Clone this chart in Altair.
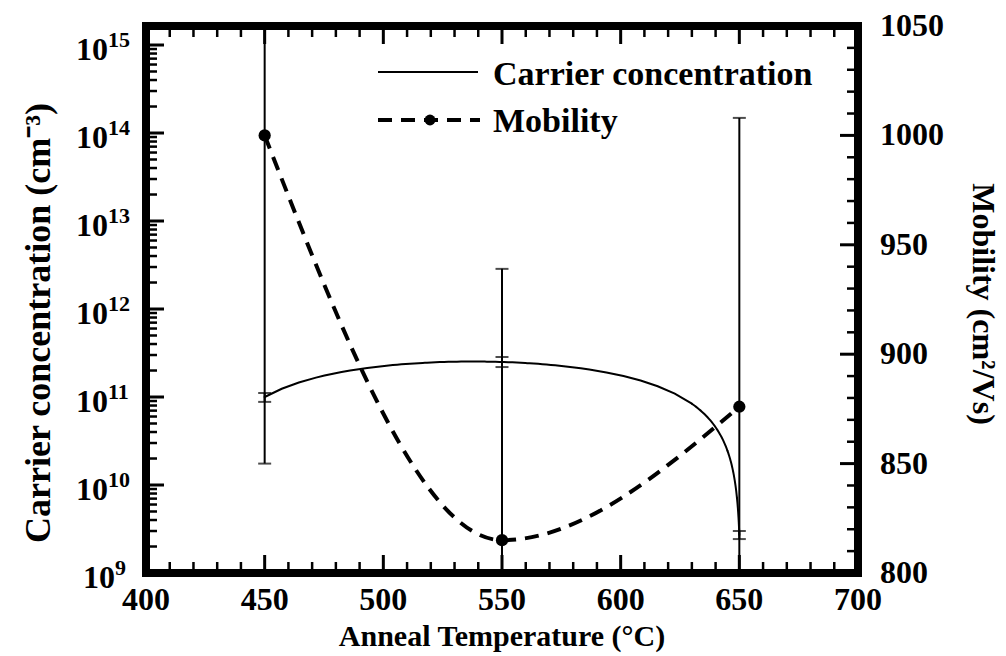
import altair as alt
import pandas as pd

# ---- measured data -------------------------------------------------------
anneal_temp = [450, 550, 650]                    # anneal temperature (C)
carrier = [1.0e11, 2.5e11, 2.7e9]                # carrier concentration (cm^-3)
carrier_low = [0.88e11, 2.19e11, 2.43e9]
carrier_high = [1.11e11, 2.85e11, 3.0e9]
mobility = [1000, 815, 876]                      # mobility (cm^2/Vs)
mobility_err = [150, 124, 132]

# ---- axis definitions ----------------------------------------------------
temp_major = [400, 450, 500, 550, 600, 650, 700]
temp_minor = [t for t in range(400, 701, 10) if t % 50 != 0]
decades = [9, 10, 11, 12, 13, 14, 15]
log_minor = [m * 10.0 ** e for e in range(9, 15) for m in range(2, 10)]
mob_major = [800, 850, 900, 950, 1000, 1050]
mob_minor = [v for v in range(800, 1051, 10) if v % 50 != 0]

legend_labels = ["Carrier concentration", "Mobility"]
x_title = "Anneal Temperature (°C)"
yl_title = "Carrier concentration (cm⁻³)"
yr_title = "Mobility (cm²/Vs)"

# sampling ranges for the fitted carrier curve (finer where it drops steeply)
fit_ranges = [[450, 630], [630, 645], [645, 649], [649, 650]]

W, H = 712, 547
FONT = "Liberation Serif"
BLACK = "black"
MAJ, MIN = 18, 11

x_scale = alt.Scale(domain=[400, 700], nice=False, zero=False)
yl_scale = alt.Scale(type="log", domain=[1e9, 10 ** 15.216], nice=False)
yr_scale = alt.Scale(domain=[800, 1050], nice=False, zero=False)

meas = pd.DataFrame({
    "temp": anneal_temp,
    "carrier": carrier,
    "carrier_low": carrier_low,
    "carrier_high": carrier_high,
    "mobility": mobility,
    "mobility_err": mobility_err,
})

X = alt.X("temp:Q", scale=x_scale, axis=None)


def text(size=32, **kw):
    return dict(font=FONT, fontWeight="bold", fontSize=size, color=BLACK, **kw)


# ---- carrier concentration (left, log axis) ------------------------------
carrier_curve = alt.layer(*[
    alt.Chart(meas).transform_regression(
        "temp", "carrier", method="poly", order=2, extent=rng
    ).mark_line(color=BLACK, strokeWidth=2, strokeCap="round").encode(
        x=X, y=alt.Y("carrier:Q", scale=yl_scale, axis=None)
    )
    for rng in fit_ranges
])

carrier_bar = alt.Chart(meas).mark_rule(color=BLACK, strokeWidth=2).encode(
    x=X, y=alt.Y("carrier_low:Q", scale=yl_scale, axis=None), y2="carrier_high:Q"
)

carrier_caps = alt.Chart(meas).transform_fold(
    ["carrier_low", "carrier_high"], as_=["end", "val"]
).mark_tick(orient="horizontal", size=13, thickness=2, color=BLACK).encode(
    x=X, y=alt.Y("val:Q", scale=yl_scale, axis=None)
)

ylt_major = alt.Chart(pd.DataFrame({"v": [10.0 ** e for e in decades]})).mark_rule(
    color=BLACK, strokeWidth=3
).encode(y=alt.Y("v:Q", scale=yl_scale, axis=None), x=alt.value(0), x2=alt.value(MAJ))

ylt_minor = alt.Chart(pd.DataFrame({"v": log_minor})).mark_rule(
    color=BLACK, strokeWidth=2.5
).encode(y=alt.Y("v:Q", scale=yl_scale, axis=None), x=alt.value(0), x2=alt.value(MIN))

dec_df = pd.DataFrame({"v": [10.0 ** e for e in decades], "exp": [str(e) for e in decades]})


def decade_labels(cond, xr):
    base = alt.Chart(dec_df).transform_filter(cond).mark_text(
        **text(32, align="right", baseline="alphabetic", dy=15)
    ).encode(y=alt.Y("v:Q", scale=yl_scale, axis=None), x=alt.value(xr), text=alt.value("10"))
    sup = alt.Chart(dec_df).transform_filter(cond).mark_text(
        **text(22, align="left", baseline="alphabetic", dy=2)
    ).encode(y=alt.Y("v:Q", scale=yl_scale, axis=None), x=alt.value(xr), text="exp:N")
    return base + sup


# ---- x axis ticks / labels -----------------------------------------------
xt_major_df = pd.DataFrame({"temp": temp_major})
xt_minor_df = pd.DataFrame({"temp": temp_minor})

x_ticks = alt.layer(
    alt.Chart(xt_major_df).mark_rule(color=BLACK, strokeWidth=3).encode(
        x=X, y=alt.value(H), y2=alt.value(H - MAJ)),
    alt.Chart(xt_major_df).mark_rule(color=BLACK, strokeWidth=3).encode(
        x=X, y=alt.value(0), y2=alt.value(MAJ)),
    alt.Chart(xt_minor_df).mark_rule(color=BLACK, strokeWidth=2.5).encode(
        x=X, y=alt.value(H), y2=alt.value(H - MIN)),
    alt.Chart(xt_minor_df).mark_rule(color=BLACK, strokeWidth=2.5).encode(
        x=X, y=alt.value(0), y2=alt.value(MIN)),
)

x_labels = alt.Chart(xt_major_df).mark_text(
    **text(32, align="center", baseline="alphabetic")
).encode(x=X, y=alt.value(H + 37), text=alt.Text("temp:Q", format="d"))

titles_df = pd.DataFrame({"x_title": [x_title], "yl_title": [yl_title], "yr_title": [yr_title]})

x_title_mark = alt.Chart(titles_df).mark_text(
    **text(30, align="center", baseline="alphabetic")
).encode(x=alt.value(W / 2), y=alt.value(H + 73), text="x_title:N")

yl_title_mark = alt.Chart(titles_df).mark_text(
    **text(36, align="center", baseline="alphabetic", angle=270)
).encode(x=alt.value(-96), y=alt.value(297), text="yl_title:N")

yr_title_mark = alt.Chart(titles_df).mark_text(
    **text(32, align="center", baseline="alphabetic", angle=90)
).encode(x=alt.value(W + 115), y=alt.value(278), text="yr_title:N")

# ---- legend ----------------------------------------------------------------
leg_df = pd.DataFrame({"label": legend_labels})
legend = alt.layer(
    alt.Chart(leg_df.iloc[[0]]).mark_rule(color=BLACK, strokeWidth=2).encode(
        x=alt.value(232), x2=alt.value(332), y=alt.value(46)),
    alt.Chart(leg_df.iloc[[1]]).mark_rule(color=BLACK, strokeWidth=4, strokeDash=[14, 9]).encode(
        x=alt.value(232), x2=alt.value(334), y=alt.value(94)),
    alt.Chart(leg_df.iloc[[1]]).mark_circle(color=BLACK, size=120, opacity=1).encode(
        x=alt.value(284), y=alt.value(94)),
    alt.Chart(leg_df.iloc[[0]]).mark_text(**text(34, align="left", baseline="alphabetic")).encode(
        x=alt.value(347), y=alt.value(59), text="label:N"),
    alt.Chart(leg_df.iloc[[1]]).mark_text(**text(34, align="left", baseline="alphabetic")).encode(
        x=alt.value(347), y=alt.value(106), text="label:N"),
)

left_group = alt.layer(
    carrier_curve, carrier_bar, carrier_caps,
    ylt_major, ylt_minor,
    decade_labels("datum.exp.length > 1", -38),
    decade_labels("datum.exp.length == 1", -31),
    x_ticks, x_labels, x_title_mark, yl_title_mark, legend,
)

# ---- mobility (right, linear axis) ---------------------------------------
YR = alt.Y("mobility:Q", scale=yr_scale, axis=None)

mob_line = alt.Chart(meas).mark_line(
    interpolate="monotone", color=BLACK, strokeWidth=4, strokeDash=[14, 9]
).encode(x=X, y=YR)

mob_pts = alt.Chart(meas).mark_circle(color=BLACK, size=150, opacity=1).encode(x=X, y=YR)

mob_err = alt.Chart(meas).transform_calculate(
    lo="datum.mobility - datum.mobility_err", hi="datum.mobility + datum.mobility_err"
)

mob_bar = mob_err.mark_rule(color=BLACK, strokeWidth=2, clip=True).encode(
    x=X, y=alt.Y("lo:Q", scale=yr_scale, axis=None), y2="hi:Q"
)

mob_caps = mob_err.transform_fold(["lo", "hi"], as_=["end", "val"]).mark_tick(
    orient="horizontal", size=13, thickness=2, color=BLACK, clip=True
).encode(x=X, y=alt.Y("val:Q", scale=yr_scale, axis=None))

yrt_major = alt.Chart(pd.DataFrame({"v": mob_major})).mark_rule(color=BLACK, strokeWidth=3).encode(
    y=alt.Y("v:Q", scale=yr_scale, axis=None), x=alt.value(W), x2=alt.value(W - MAJ))
yrt_minor = alt.Chart(pd.DataFrame({"v": mob_minor})).mark_rule(color=BLACK, strokeWidth=2.5).encode(
    y=alt.Y("v:Q", scale=yr_scale, axis=None), x=alt.value(W), x2=alt.value(W - MIN))

yr_labels = alt.Chart(pd.DataFrame({"v": mob_major})).mark_text(
    **text(32, align="left", baseline="alphabetic", dy=10)
).encode(y=alt.Y("v:Q", scale=yr_scale, axis=None), x=alt.value(W + 22), text=alt.Text("v:Q", format="d"))

right_group = alt.layer(
    mob_bar, mob_caps, mob_line, mob_pts, yrt_major, yrt_minor, yr_labels, yr_title_mark
)

chart = alt.layer(left_group, right_group).resolve_scale(y="independent").properties(
    width=W,
    height=H,
    autosize=alt.AutoSizeParams(type="none"),
    padding={"left": 146, "top": 26, "right": 1006 - 146 - W, "bottom": 656 - 26 - H},
    background="white",
).configure_view(stroke=BLACK, strokeWidth=8)

chart.save("out.html", embed_options={"renderer": "svg", "actions": False})
